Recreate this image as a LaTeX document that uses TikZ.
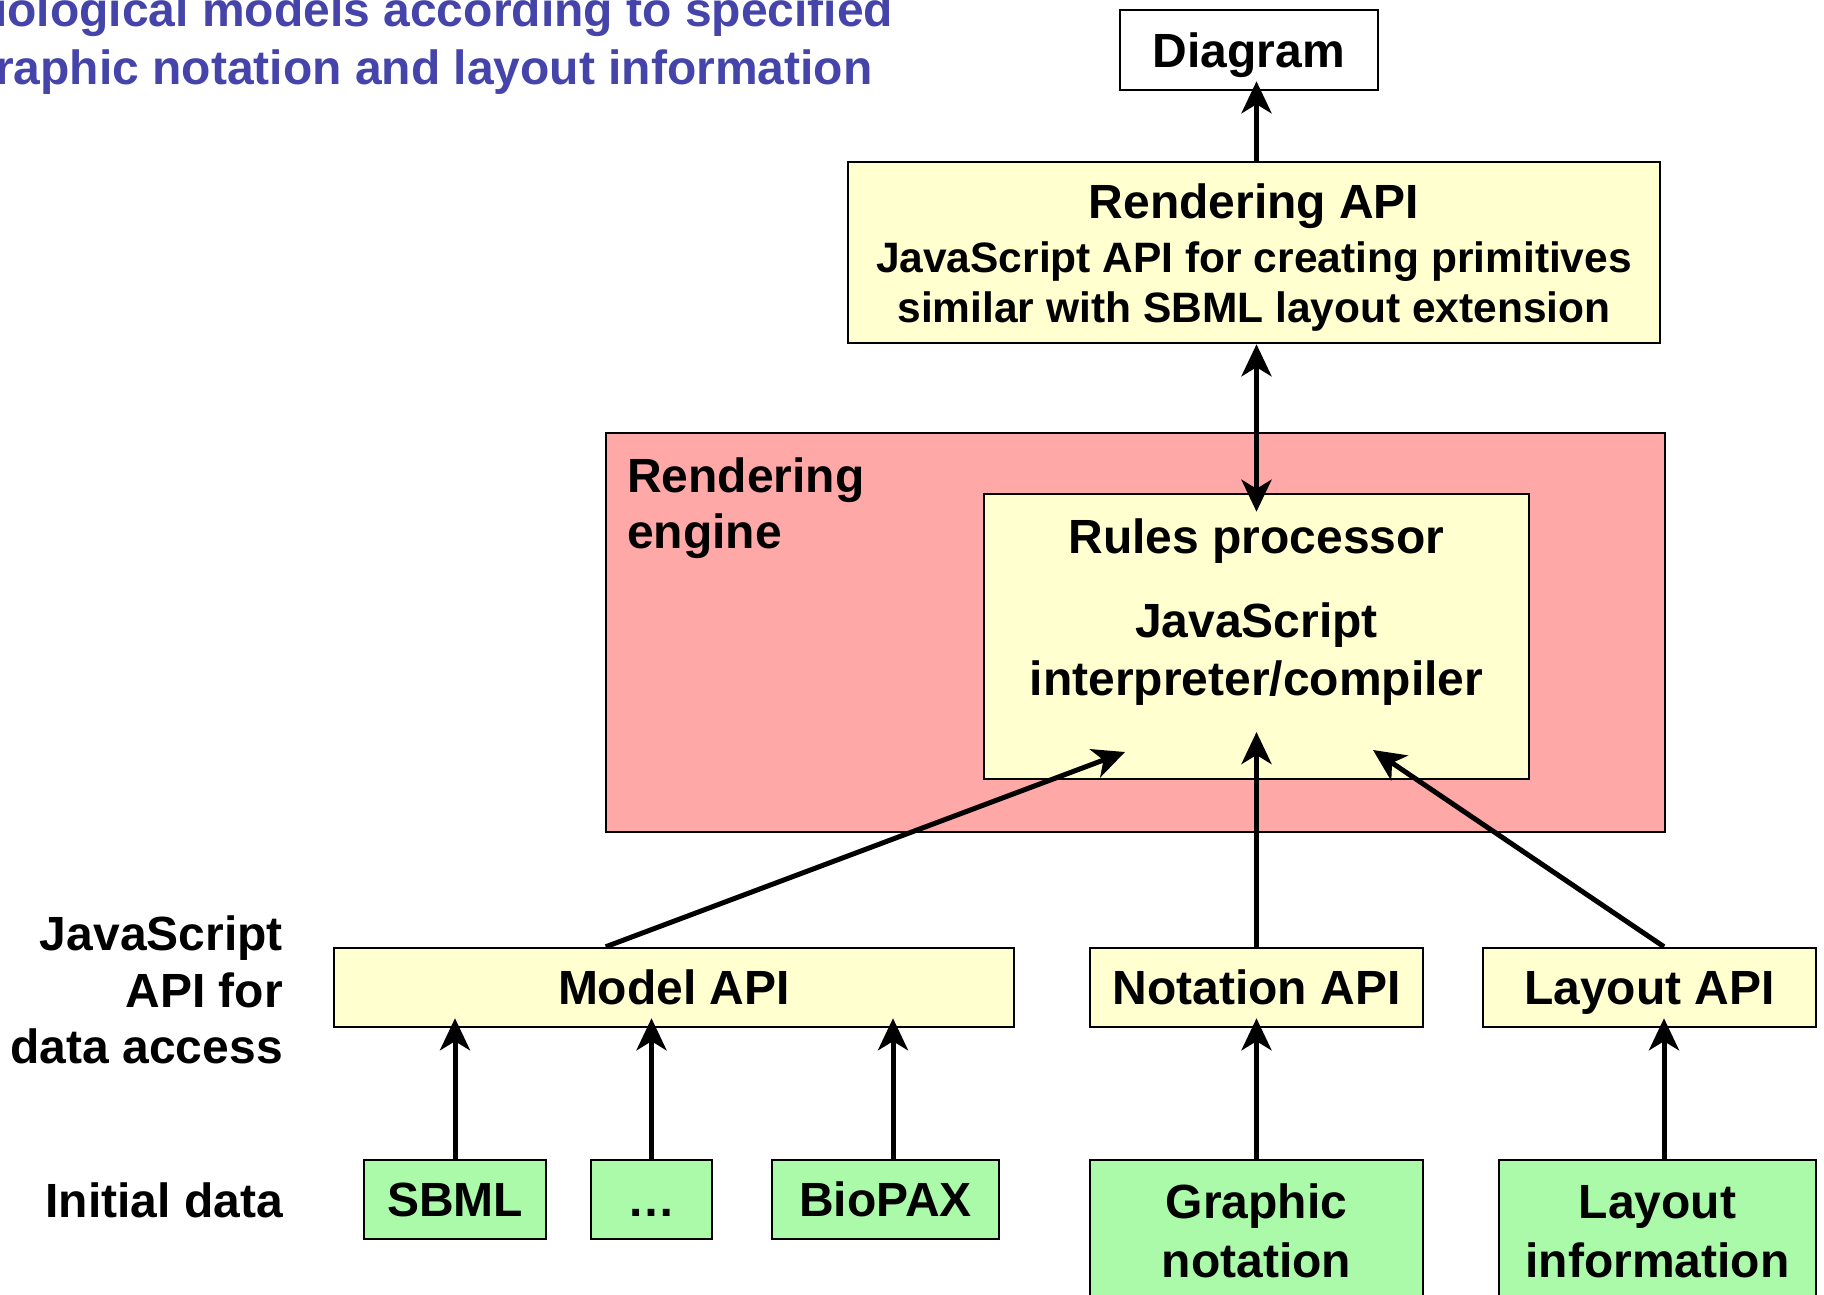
\documentclass[tikz,border=0pt]{standalone}
\usepackage{fontspec}
\setmainfont{Liberation Sans}
\usepackage{xcolor}
\usepackage{tikz}
\usetikzlibrary{arrows.meta,calc}

\definecolor{apiyellow}{RGB}{255,255,208}
\definecolor{enginepink}{RGB}{255,168,168}
\definecolor{datagreen}{RGB}{170,250,170}
\definecolor{titleblue}{RGB}{68,68,170}

\begin{document}
\begin{tikzpicture}[x=1pt,y=-1pt,
  txt/.style={font=\fontsize{48}{56}\selectfont\bfseries,inner sep=0pt},
  subtxt/.style={font=\fontsize{42.5}{51}\selectfont\bfseries,inner sep=0pt},
  box/.style={draw,line width=2.5pt,inner sep=0pt,txt,text height=34.5pt,text depth=0pt},
  apibox/.style={box,fill=apiyellow},
  databox/.style={box,fill=datagreen},
  flow/.style={line width=5pt,-{Stealth[length=32pt,width=30pt,inset=9pt]}}]
\useasboundingbox (0,0) rectangle (1824,1294);

% title, cut at the page edge
\node[txt,text=titleblue,anchor=base west] (title1) at (-6,26) {iological models according to specified};
\node[txt,text=titleblue,anchor=base west] (title2) at (-5,84) {raphic notation and layout information};

% top part
\node[box,fill=white,minimum width=258pt,minimum height=80pt] (diagram) at (1249,50) {Diagram};
\node[apibox,minimum width=812pt,minimum height=181pt] (render) at (1254,252.5) {};
\node[txt,anchor=base] (renderA) at (1254,218) {Rendering API};
\node[subtxt,anchor=base] (renderB) at (1254,272) {JavaScript API for creating primitives};
\node[subtxt,anchor=base] (renderC) at (1254,322) {similar with SBML layout extension};

% rendering engine
\node[draw,line width=2.5pt,fill=enginepink,minimum width=1059pt,minimum height=399pt] (engine) at (1135.5,632.5) {};
\node[txt,anchor=base west] (engineA) at (627,492) {Rendering};
\node[txt,anchor=base west] (engineB) at (627,548) {engine};
\node[apibox,minimum width=545pt,minimum height=285pt] (rules) at (1256.5,636.5) {};
\node[txt,anchor=base] (rulesA) at (1256.5,553) {Rules processor};
\node[txt,anchor=base] (rulesB) at (1256.5,637) {JavaScript};
\node[txt,anchor=base] (rulesC) at (1256.5,695) {interpreter/compiler};

% APIs
\node[apibox,minimum width=680pt,minimum height=79pt] (modelapi) at (674,987.5) {Model API};
\node[apibox,minimum width=333pt,minimum height=79pt] (notation) at (1256.5,987.5) {Notation API};
\node[apibox,minimum width=333pt,minimum height=79pt] (layoutapi) at (1649.5,987.5) {Layout API};

% initial data
\node[databox,minimum width=182pt,minimum height=79pt] (sbml) at (455,1199.5) {SBML};
\node[databox,minimum width=121pt,minimum height=79pt] (dots) at (651.5,1199.5) {…};
\node[databox,minimum width=227pt,minimum height=79pt] (biopax) at (885.5,1199.5) {BioPAX};
\node[databox,minimum width=333pt,minimum height=150pt] (graphic) at (1256.5,1235) {};
\node[txt,anchor=base] (graphicA) at (1256.5,1218) {Graphic};
\node[txt,anchor=base] (graphicB) at (1256.5,1277) {notation};
\node[databox,minimum width=317pt,minimum height=150pt] (layoutinfo) at (1657.5,1235) {};
\node[txt,anchor=base] (layoutinfoA) at (1657.5,1218) {Layout};
\node[txt,anchor=base] (layoutinfoB) at (1657.5,1277) {information};

% row labels
\node[txt,anchor=base east] (lblA) at (283,950) {JavaScript};
\node[txt,anchor=base east] (lblB) at (283,1007) {API for};
\node[txt,anchor=base east] (lblC) at (283,1063) {data access};
\node[txt,anchor=base east] (lblD) at (283,1217) {Initial data};

% arrows
\coordinate (tipL) at (1125,752);
\coordinate (tipM) at (1256.5,732);
\coordinate (tipR) at (1373,750);
\coordinate (lx) at (1664,0);
\coordinate (bx) at (893,0);
\draw[flow,shorten >=-10pt] (render.north -| rules) -- (diagram.south -| rules);
\draw[flow,{Stealth[length=32pt,width=30pt,inset=9pt]}-{Stealth[length=32pt,width=30pt,inset=9pt]},shorten >=-19pt]
  (render.south -| rules) -- (rules.north);
\draw[flow] ($(modelapi.north west)!0.4!(modelapi.north east)$) -- (tipL);
\draw[flow] (notation.north) -- (tipM);
\draw[flow] (layoutapi.north -| lx) -- (tipR);
\foreach \n in {sbml,dots}
  \draw[flow,shorten >=-10pt] (\n.north) -- (\n.north |- modelapi.south);
\draw[flow,shorten >=-10pt] (biopax.north -| bx) -- (modelapi.south -| bx);
\draw[flow,shorten >=-10pt] (graphic.north) -- (notation.south);
\draw[flow,shorten >=-10pt] (layoutinfo.north -| lx) -- (layoutapi.south -| lx);
\end{tikzpicture}
\end{document}
